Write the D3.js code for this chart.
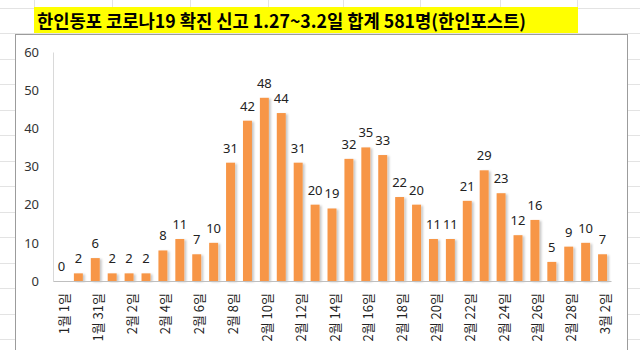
<!DOCTYPE html>
<html><head><meta charset="utf-8">
<script src="https://cdn.jsdelivr.net/npm/d3@7"></script>
<style>
html,body{margin:0;padding:0;background:#fff;}
svg{display:block;}
</style></head>
<body>
<script>
const title = "한인동포 코로나19 확진 신고 1.27~3.2일 합계 581명(한인포스트)";
const categories = ["1월 1일","1월 30일","1월 31일","2월 1일","2월 2일","2월 3일","2월 4일","2월 5일","2월 6일","2월 7일","2월 8일","2월 9일","2월 10일","2월 11일","2월 12일","2월 13일","2월 14일","2월 15일","2월 16일","2월 17일","2월 18일","2월 19일","2월 20일","2월 21일","2월 22일","2월 23일","2월 24일","2월 25일","2월 26일","2월 27일","2월 28일","2월 29일","3월 2일"];
const values = [0,2,6,2,2,2,8,11,7,10,31,42,48,44,31,20,19,32,35,33,22,20,11,11,21,29,23,12,16,5,9,10,7];
const yTicks = [0,10,20,30,40,50,60];

const W = 640, H = 350;
const svg = d3.select("body").append("svg").attr("width", W).attr("height", H);

// spreadsheet grid background
const grid = svg.append("g").attr("stroke", "#e3e3e3").attr("stroke-width", 1);
for (let y = 7.5; y < H; y += 25.5) grid.append("line").attr("x1", 0).attr("x2", W).attr("y1", Math.round(y) + 0.5).attr("y2", Math.round(y) + 0.5);
[34, 112, 190, 268, 343, 420, 500, 577].forEach(x => grid.append("line").attr("x1", x + 0.5).attr("x2", x + 0.5).attr("y1", 0).attr("y2", H));

// title cell
svg.append("rect").attr("x", 34).attr("y", 7).attr("width", 544).attr("height", 26).attr("fill", "#ffff00");
svg.append("text").attr("x", 37).attr("y", 28)
  .attr("font-family", "'Noto Sans CJK KR', sans-serif").attr("font-weight", "bold")
  .attr("font-size", 18).attr("fill", "#000")
  .attr("textLength", 489).attr("lengthAdjust", "spacingAndGlyphs")
  .text(title);

// chart box
svg.append("rect").attr("x", 15.5).attr("y", 34.5).attr("width", 612).attr("height", 330)
  .attr("fill", "#fff").attr("stroke", "#9c9c9c").attr("stroke-width", 1);

const defs = svg.append("defs");
const f = defs.append("filter").attr("id", "sh").attr("x", "-50%").attr("y", "-20%").attr("width", "200%").attr("height", "140%");
f.append("feDropShadow").attr("dx", 2).attr("dy", 1).attr("stdDeviation", 1).attr("flood-color", "#000").attr("flood-opacity", 0.22);

const x = d3.scaleBand().domain(categories).range([53, 611]).paddingInner(0.47).paddingOuter(0.235);
const y = d3.scaleLinear().domain([0, 60]).range([281, 52]);

const font = "'Noto Sans', 'Open Sans', sans-serif";

// y axis
const ya = svg.append("g").attr("transform", "translate(53,0)")
  .call(d3.axisLeft(y).tickValues(yTicks).tickSize(0).tickPadding(14));
ya.select(".domain").attr("stroke", "#d9d9d9");
ya.selectAll("text").attr("font-family", font).attr("font-size", 13).attr("fill", "#333");

// bars
svg.append("g").selectAll("rect").data(values).join("rect")
  .attr("x", (d, i) => x(categories[i]))
  .attr("y", d => y(d))
  .attr("width", x.bandwidth())
  .attr("height", d => y(0) - y(d))
  .attr("fill", "#f79646")
  .attr("filter", "url(#sh)");

// value labels
svg.append("g").selectAll("text").data(values).join("text")
  .attr("x", (d, i) => x(categories[i]) + x.bandwidth() / 2)
  .attr("y", d => y(d) - 10)
  .attr("text-anchor", "middle")
  .attr("font-family", font).attr("font-size", 13).attr("fill", "#222")
  .text(d => d);

// x axis
const xa = svg.append("g").attr("transform", "translate(0,281)")
  .call(d3.axisBottom(x).tickSize(0).tickSizeOuter(0).tickFormat((d, i) => i % 2 === 0 ? d : ""));
xa.select(".domain").attr("stroke", "#bfbfbf");
xa.selectAll("text")
  .attr("transform", "rotate(-90)")
  .attr("text-anchor", "end")
  .attr("x", -12).attr("y", 3).attr("dy", "0.35em")
  .attr("font-family", "'Noto Sans CJK KR', sans-serif").attr("font-size", 13).attr("fill", "#222");
</script>
</body></html>
